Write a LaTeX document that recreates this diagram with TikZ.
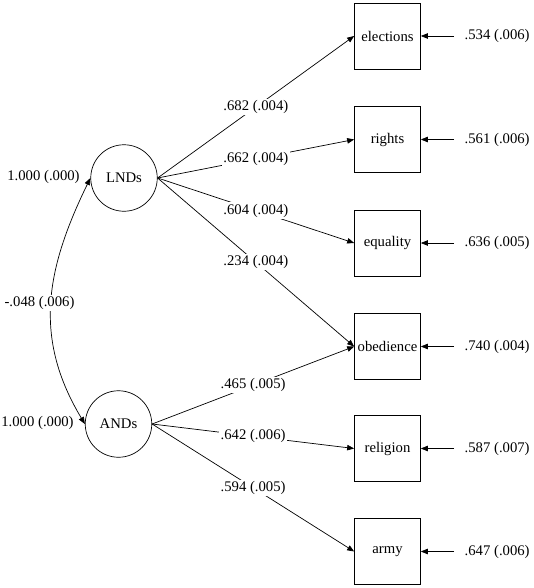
\documentclass[tikz,border=0pt]{standalone}
\usepackage{fontspec}
\setmainfont{Liberation Serif}
\usetikzlibrary{arrows.meta}
\begin{document}
\begin{tikzpicture}[x=1pt,y=-1pt,
  every node/.style={font=\fontsize{14.7}{17}\selectfont},
  latent/.style={draw,circle,minimum size=66.5pt,inner sep=0pt,line width=0.7pt},
  obs/.style={draw,rectangle,minimum size=66pt,inner sep=0pt,line width=0.7pt},
  lab/.style={fill=white,inner sep=1.5pt},
  conn/.style={line width=0.7pt,-{Triangle[length=7pt,width=5.5pt]}},
  resid/.style={anchor=west,inner sep=0pt}]
\useasboundingbox (0,0) rectangle (533,588);
\node[latent] (LNDs) at (124,178) {LNDs};
\node[latent] (ANDs) at (118.5,424) {ANDs};
\foreach \n/\y/\r in {elections/36/.534 (.006), rights/139.5/.561 (.006), equality/243/.636 (.005), obedience/346.5/.740 (.004), religion/448.5/.587 (.007), army/551.5/.647 (.006)}{
  \node[obs] (\n) at (387.5,\y) {\n};
  \node[resid] (r\n) at (464.5,\y) {\r};
  \coordinate (e\n) at (454,\y);
  \draw[conn] (e\n) -- (\n.west -| \n.east);
}
\draw[conn] (LNDs.east) -- node[lab] (l1) {.682 (.004)} (elections.west);
\draw[conn] (LNDs.east) -- node[lab] (l2) {.662 (.004)} (rights.west);
\draw[conn] (LNDs.east) -- node[lab] (l3) {.604 (.004)} (equality.west);
\draw[conn] (LNDs.east) -- node[lab] (l4) {.234 (.004)} (obedience.west);
\draw[conn] (ANDs.east) -- node[lab] (l5) {.465 (.005)} (obedience.west);
\draw[conn] (ANDs.east) -- node[lab] (l6) {.642 (.006)} (religion.west);
\draw[conn] (ANDs.east) -- node[lab] (l7) {.594 (.005)} (army.west);
\draw[line width=0.7pt,{Triangle[length=7pt,width=5.5pt]}-{Triangle[length=7pt,width=5.5pt]}]
  (LNDs.west) to[out=-116,in=121,looseness=1.05] (ANDs.west);
\node (v1) at (43.5,177) {1.000 (.000)};
\node (v2) at (37.5,423) {1.000 (.000)};
\node[lab] (cov) at (39.5,303) {-.048 (.006)};
\end{tikzpicture}
\end{document}
